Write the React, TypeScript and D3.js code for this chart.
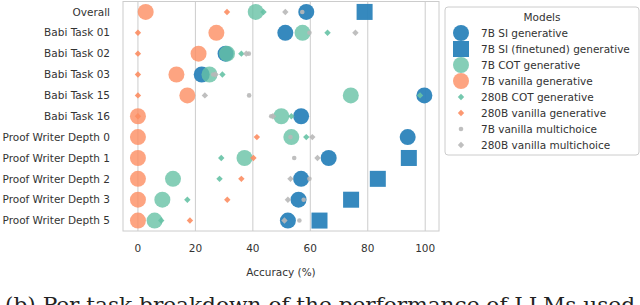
import React from 'react';
import * as d3 from 'd3';

// tasks, top to bottom
const tasks = [
  'Overall',
  'Babi Task 01',
  'Babi Task 02',
  'Babi Task 03',
  'Babi Task 15',
  'Babi Task 16',
  'Proof Writer Depth 0',
  'Proof Writer Depth 1',
  'Proof Writer Depth 2',
  'Proof Writer Depth 3',
  'Proof Writer Depth 5',
];

const xTicks = [0, 20, 40, 60, 80, 100];

// accuracy (%) per task, null = not run
const siGenerative = [58.6, 51.3, 30.5, 22.2, 99.7, 56.8, 93.9, 66.4, 56.8, 55.9, 52.2];
const siFinetuned = [78.9, null, null, null, null, null, null, 94.3, 83.5, 74.2, 63.2];
const cotGenerative = [41, 57.3, 31, 24.9, 74.1, 49.9, 53.4, 37.1, 12.2, 8.5, 5.8];
const vanillaGenerative = [2.7, 27.3, 21.1, 13.4, 17.2, 0, 0, 0, 0, 0, 0];
const cot280 = [43.7, 66, 36, 29.4, 98.2, 53.4, 58.6, 29, 28.4, 17.2, 8.1];
const vanilla280 = [31, 0, 0, 0, 0, 0, 41.4, 40.2, 36, 31.1, 18.1];
const multichoice7 = [57.2, 59.7, 38.6, 26.2, 38.7, 46.4, 53.1, 54.4, 59.7, 57.7, 56.2];
const multichoice280 = [51.3, 75.7, 37.7, 27, 23.3, 47, 60.7, 62.5, 53.1, 52.2, 51];

const BLUE = '#2b83ba';
const GREEN = '#66c2a5';
const ORANGE = '#fc8d62';
const GREY = '#b8b8b8';

type Shape = 'circle' | 'square' | 'diamond' | 'dot';

const series: { name: string; values: (number | null)[]; color: string; shape: Shape; size: number; opacity: number }[] = [
  { name: '7B SI generative', values: siGenerative, color: BLUE, shape: 'circle', size: 8, opacity: 0.95 },
  { name: '7B SI (finetuned) generative', values: siFinetuned, color: BLUE, shape: 'square', size: 8, opacity: 0.95 },
  { name: '7B COT generative', values: cotGenerative, color: GREEN, shape: 'circle', size: 8, opacity: 0.8 },
  { name: '7B vanilla generative', values: vanillaGenerative, color: ORANGE, shape: 'circle', size: 8, opacity: 0.8 },
  { name: '280B COT generative', values: cot280, color: GREEN, shape: 'diamond', size: 3.2, opacity: 0.9 },
  { name: '280B vanilla generative', values: vanilla280, color: ORANGE, shape: 'diamond', size: 3.2, opacity: 0.9 },
  { name: '7B vanilla multichoice', values: multichoice7, color: GREY, shape: 'dot', size: 2.3, opacity: 0.9 },
  { name: '280B vanilla multichoice', values: multichoice280, color: GREY, shape: 'diamond', size: 3.2, opacity: 0.9 },
];

const margin = { left: 123, right: 439, top: 1.5, bottom: 231 };
const font = 'DejaVu Sans, sans-serif';
const fs = 10.5;

function Marker({ shape, x, y, size, color, opacity }: { shape: Shape; x: number; y: number; size: number; color: string; opacity: number }) {
  if (shape === 'square')
    return <rect x={x - size} y={y - size} width={size * 2} height={size * 2} fill={color} fillOpacity={opacity} />;
  if (shape === 'diamond')
    return (
      <path
        d={`M${x},${y - size}L${x + size},${y}L${x},${y + size}L${x - size},${y}Z`}
        fill={color}
        fillOpacity={opacity}
      />
    );
  return <circle cx={x} cy={y} r={size} fill={color} fillOpacity={opacity} />;
}

export default function App() {
  const x = d3.scaleLinear().domain([-5.2, 104.8]).range([margin.left, margin.right]);
  const y = d3.scalePoint<string>().domain(tasks).range([margin.top, margin.bottom]).padding(0.5);

  const legendX = 445;
  const legendY = 7;

  return (
    <svg
      width={640}
      height={305}
      style={{ position: 'fixed', left: 0, top: 0, background: '#fff' }}
      fontFamily={font}
    >
      {/* frame + grid */}
      <rect
        x={margin.left}
        y={margin.top}
        width={margin.right - margin.left}
        height={margin.bottom - margin.top}
        fill="none"
        stroke="#cccccc"
        strokeWidth={1}
      />
      {xTicks.map((t) => (
        <g key={t}>
          <line x1={x(t)} x2={x(t)} y1={margin.top} y2={margin.bottom} stroke="#cccccc" strokeWidth={1} />
          <text x={x(t)} y={252} textAnchor="middle" fontSize={fs} fill="#333">
            {t}
          </text>
        </g>
      ))}
      <text x={(margin.left + margin.right) / 2} y={276} textAnchor="middle" fontSize={fs} fill="#333">
        Accuracy (%)
      </text>

      {tasks.map((t) => (
        <text key={t} x={110} y={y(t)!} dy="0.35em" textAnchor="end" fontSize={fs} fill="#333">
          {t}
        </text>
      ))}

      {series.map((s) => (
        <g key={s.name}>
          {s.values.map((v, i) =>
            v == null ? null : (
              <Marker key={i} shape={s.shape} x={x(v)} y={y(tasks[i])!} size={s.size} color={s.color} opacity={s.opacity} />
            )
          )}
        </g>
      ))}

      {/* legend */}
      <rect x={legendX} y={legendY} width={194} height={148} rx={3} fill="#fff" fillOpacity={0.85} stroke="#cccccc" />
      <text x={legendX + 97} y={legendY + 14} textAnchor="middle" fontSize={fs} fill="#333">
        Models
      </text>
      {series.map((s, i) => {
        const ly = legendY + 26 + i * 16;
        return (
          <g key={s.name}>
            <Marker shape={s.shape} x={461} y={ly} size={s.size} color={s.color} opacity={s.opacity} />
            <text x={481} y={ly} dy="0.35em" fontSize={fs} fill="#333">
              {s.name}
            </text>
          </g>
        );
      })}

      <text x={5} y={312} fontSize={20} fontFamily="DejaVu Serif, serif" fill="#222" textLength={630} lengthAdjust="spacingAndGlyphs">
        (b) Per task breakdown of the performance of LLMs used
      </text>
    </svg>
  );
}
